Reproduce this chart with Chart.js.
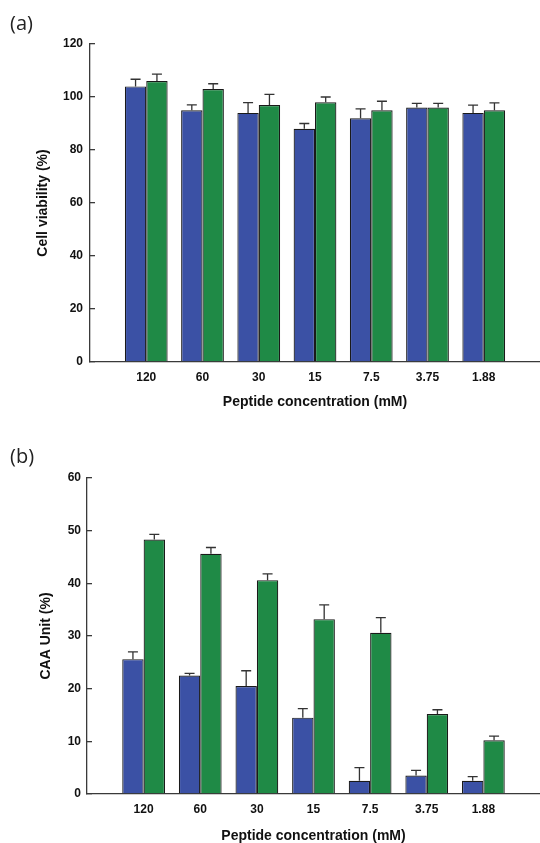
<!DOCTYPE html>
<html><head><meta charset="utf-8">
<script src="https://cdn.jsdelivr.net/npm/chart.js@4/dist/chart.umd.min.js"></script>
<style>
html,body{margin:0;padding:0;background:#fff;width:540px;height:843px;overflow:hidden;}
.panel{position:absolute;left:0;width:540px;}
#pa{top:0;height:420px;}
#pb{top:420px;height:423px;}
.lab{position:absolute;font-family:'Open Sans',sans-serif;font-size:20px;line-height:20px;color:#222;}
</style></head><body>
<div class="panel" id="pa"><canvas id="ca"></canvas></div>
<div class="panel" id="pb"><canvas id="cb"></canvas></div>
<div class="lab" style="left:10px;top:13px">(a)</div>
<div class="lab" style="left:10px;top:446px">(b)</div>
<script>
const categories = ['120', '60', '30', '15', '7.5', '3.75', '1.88'];

const viabilityBlue = [104, 95, 94, 88, 92, 96, 94];
const viabilityBlueErr = [2.7, 2.0, 3.9, 2.0, 3.5, 1.6, 2.9];
const viabilityGreen = [106, 103, 97, 98, 95, 96, 95];
const viabilityGreenErr = [2.6, 2.0, 4.0, 2.0, 3.4, 1.6, 2.8];
const viabilityTicks = [0, 20, 40, 60, 80, 100, 120];

const caaBlue = [25.6, 22.5, 20.5, 14.5, 2.5, 3.5, 2.5];
const caaBlueErr = [1.4, 0.4, 2.9, 1.7, 2.5, 1.0, 0.8];
const caaGreen = [48.3, 45.6, 40.6, 33.2, 30.6, 15.2, 10.2];
const caaGreenErr = [1.0, 1.2, 1.2, 2.7, 2.9, 0.8, 0.8];
const caaTicks = [0, 10, 20, 30, 40, 50, 60];

const xTitle = 'Peptide concentration (mM)';

const BLUE = '#3b51a5';
const GREEN = '#1f8a46';
const INK = '#111';
const AXIS = '#3a3a3a';

const errorBarPlugin = {
  id: 'errorBars',
  afterDatasetsDraw(chart) {
    const ctx = chart.ctx;
    const ys = chart.scales.y;
    ctx.save();
    ctx.strokeStyle = '#333';
    ctx.lineWidth = 1.3;
    chart.data.datasets.forEach((ds, di) => {
      const meta = chart.getDatasetMeta(di);
      meta.data.forEach((bar, i) => {
        const v = ds.data[i];
        const e = ds.errors ? ds.errors[i] : null;
        if (v == null || e == null) return;
        const top = ys.getPixelForValue(v + e);
        ctx.beginPath();
        ctx.moveTo(bar.x, bar.y);
        ctx.lineTo(bar.x, top);
        ctx.moveTo(bar.x - 5, top);
        ctx.lineTo(bar.x + 5, top);
        ctx.stroke();
      });
    });
    ctx.restore();
  }
};

function pad(arr) { return [null, ...arr, null]; }

function makeChart(id, cfg) {
  const labels = ['', ...categories, ''];
  return new Chart(document.getElementById(id), {
    type: 'bar',
    data: {
      labels: labels,
      datasets: [
        { label: 'Series 1', data: pad(cfg.blue), errors: pad(cfg.blueErr),
          backgroundColor: BLUE, borderColor: '#1a1a1a', borderWidth: 1.2,
          categoryPercentage: cfg.catPct, barPercentage: 1.0 },
        { label: 'Series 2', data: pad(cfg.green), errors: pad(cfg.greenErr),
          backgroundColor: GREEN, borderColor: '#1a1a1a', borderWidth: 1.2,
          categoryPercentage: cfg.catPct, barPercentage: 1.0 }
      ]
    },
    options: {
      responsive: true,
      maintainAspectRatio: false,
      animation: false,
      layout: { padding: { top: cfg.top, left: 0, right: 0, bottom: 0 } },
      plugins: { legend: { display: false }, tooltip: { enabled: false } },
      scales: {
        x: {
          offset: false,
          grid: { display: false, drawTicks: false },
          border: { display: true, color: AXIS, width: 1.3 },
          ticks: { color: INK, padding: 8, maxRotation: 0, autoSkip: false,
                   font: { family: 'Liberation Sans', size: 12, weight: 'bold' } },
          title: { display: true, text: xTitle, color: INK,
                   padding: { top: 0, bottom: cfg.xTitlePad },
                   font: { family: 'Liberation Sans', size: 14, weight: 'bold', lineHeight: 1 } },
          afterFit(s) { s.height = cfg.xHeight; s.paddingLeft = 0; s.paddingRight = 0; }
        },
        y: {
          min: cfg.ticks[0],
          max: cfg.ticks[cfg.ticks.length - 1],
          afterBuildTicks(s) { s.ticks = cfg.ticks.map(v => ({ value: v })); },
          grid: { display: true, drawOnChartArea: false, drawTicks: true, tickLength: -5,
                  color: AXIS, lineWidth: 1.3 },
          border: { display: true, color: AXIS, width: 1.3 },
          ticks: { color: INK, padding: cfg.yTickPad,
                   font: { family: 'Liberation Sans', size: 12, weight: 'bold' } },
          title: { display: true, text: cfg.yTitle, color: INK,
                   padding: { top: cfg.yTitlePad, bottom: 0 },
                   font: { family: 'Liberation Sans', size: 14, weight: 'bold', lineHeight: 1 } },
          afterFit(s) { s.width = cfg.yWidth; }
        }
      }
    },
    plugins: [errorBarPlugin]
  });
}

makeChart('ca', {
  blue: viabilityBlue, blueErr: viabilityBlueErr,
  green: viabilityGreen, greenErr: viabilityGreenErr,
  ticks: viabilityTicks, yTitle: 'Cell viability (%)',
  top: 44, yWidth: 90, xHeight: 58, catPct: 0.76,
  yTickPad: 12, yTitlePad: 36, xTitlePad: 11
});

makeChart('cb', {
  blue: caaBlue, blueErr: caaBlueErr,
  green: caaGreen, greenErr: caaGreenErr,
  ticks: caaTicks, yTitle: 'CAA Unit (%)',
  top: 58, yWidth: 87, xHeight: 49, catPct: 0.755,
  yTickPad: 11, yTitlePad: 39, xTitlePad: 0
});
</script>
</body></html>
